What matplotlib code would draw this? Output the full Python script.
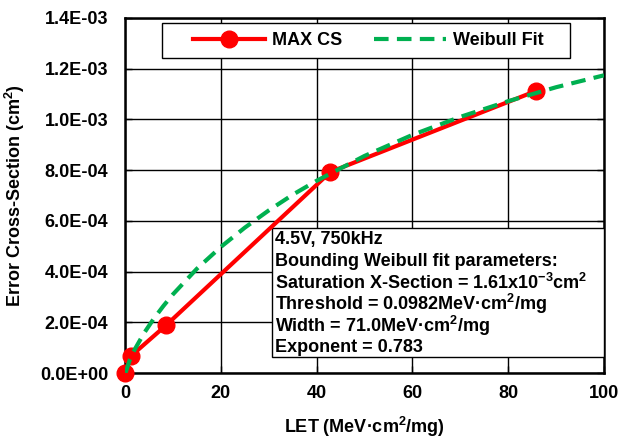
import matplotlib
matplotlib.use("Agg")
import matplotlib.pyplot as plt
from matplotlib.ticker import FuncFormatter, MultipleLocator
from matplotlib.patches import Rectangle

plt.rcParams['font.family'] = ['Liberation Sans', 'DejaVu Sans']
plt.rcParams['font.weight'] = 'bold'
plt.rcParams['mathtext.fontset'] = 'custom'
plt.rcParams['mathtext.rm'] = 'Liberation Sans:bold'
plt.rcParams['mathtext.it'] = 'Liberation Sans:bold'
plt.rcParams['mathtext.bf'] = 'Liberation Sans:bold'
plt.rcParams['mathtext.default'] = 'rm'

# measured cross-section points
let_cs = [0.0, 1.25, 8.56, 42.9, 85.9]
max_cs = [0.0, 6.7e-5, 1.88e-4, 7.93e-4, 1.113e-3]

# Weibull fit curve
let_fit = [0.1, 1, 2, 4, 6, 8, 10, 15, 20, 25, 30, 35, 40, 50, 60, 70, 80, 90, 100]
fit_cs = [0.0, 5.2e-5, 9.2e-5, 1.58e-4, 2.14e-4, 2.64e-4, 3.10e-4, 4.11e-4, 4.97e-4,
          5.73e-4, 6.41e-4, 7.03e-4, 7.58e-4, 8.56e-4, 9.39e-4, 1.010e-3, 1.072e-3,
          1.127e-3, 1.174e-3]

info_lines = [
    "4.5V, 750kHz",
    "Bounding Weibull fit parameters:",
    "Saturation X-Section = 1.61x10$^{-3}$cm$^2$",
    "Threshold = 0.0982MeV\u00b7cm$^2$/mg",
    "Width = 71.0MeV\u00b7cm$^2$/mg",
    "Exponent = 0.783",
]

RED = '#FF0000'
GREEN = '#00B050'
FS = 13

# axes box in pixels (left, right, top, bottom)
L, R, T, B = 125, 604, 18, 373
W, H = R - L, B - T

def ax_xy(px, py):
    return (px - L) / W, (B - py) / H

fig = plt.figure(figsize=(6.18, 4.41), dpi=100)
ax = fig.add_axes([L/618, 1-B/441, W/618, H/441])

ax.plot(let_cs, max_cs, color=RED, lw=3, marker='o', ms=12, zorder=4,
        label='MAX CS', clip_on=False)
ax.plot(let_fit, fit_cs, color=GREEN, lw=3, dashes=(3.5, 2), zorder=5,
        label='Weibull Fit')

ax.set_xlim(0, 100)
ax.set_ylim(0, 1.4e-3)
ax.xaxis.set_major_locator(MultipleLocator(20))
ax.yaxis.set_major_locator(MultipleLocator(2e-4))
ax.yaxis.set_major_formatter(FuncFormatter(lambda v, p: '{:.1E}'.format(v)))
ax.grid(True, color='black', lw=1, zorder=1)
ax.set_axisbelow(True)
for s in ax.spines.values():
    s.set_linewidth(1.8)
ax.tick_params(direction='in', length=5, width=1, top=False, right=True,
               labelsize=FS)
ax.tick_params(axis='y', pad=12)
ax.tick_params(axis='x', pad=9)
for lab in ax.get_xticklabels() + ax.get_yticklabels():
    lab.set_fontweight('bold')

ax.set_xlabel('LET (MeV\u00b7cm$^2$/mg)', fontsize=FS, fontweight='bold')
ax.set_ylabel('Error Cross-Section (cm$^2$)', fontsize=FS, fontweight='bold')
ax.xaxis.set_label_coords(0.5, ax_xy(0, 415)[1])
ax.yaxis.set_label_coords(ax_xy(27, 0)[0], 0.5)

# parameter box
x0, y0 = ax_xy(272, 357)
x1, y1 = ax_xy(604, 228)
box = Rectangle((x0, y0), x1 - x0, y1 - y0, transform=ax.transAxes,
                facecolor='white', edgecolor='black', lw=1, zorder=3)
ax.add_patch(box)
for i, line in enumerate(info_lines):
    tx, ty = ax_xy(275, 240 + i * 21.4)
    ax.text(tx, ty, line, transform=ax.transAxes,
            fontsize=FS, fontweight='bold', va='center', ha='left', zorder=6)

# legend frame drawn separately so its padding matches
lx0, ly0 = ax_xy(162, 58)
lx1, ly1 = ax_xy(570, 23)
ax.add_patch(Rectangle((lx0, ly0), lx1 - lx0, ly1 - ly0, transform=ax.transAxes,
                       facecolor='white', edgecolor='black', lw=1, zorder=7,
                       clip_on=False))
leg = ax.legend(loc='center left', bbox_to_anchor=ax_xy(193, 40.5), ncol=2,
                handlelength=4.0, handletextpad=0.39, columnspacing=1.72,
                frameon=False, prop={'size': FS, 'weight': 'bold'},
                borderpad=0, borderaxespad=0)
leg.set_zorder(8)

fig.savefig('out.png', dpi=100)
